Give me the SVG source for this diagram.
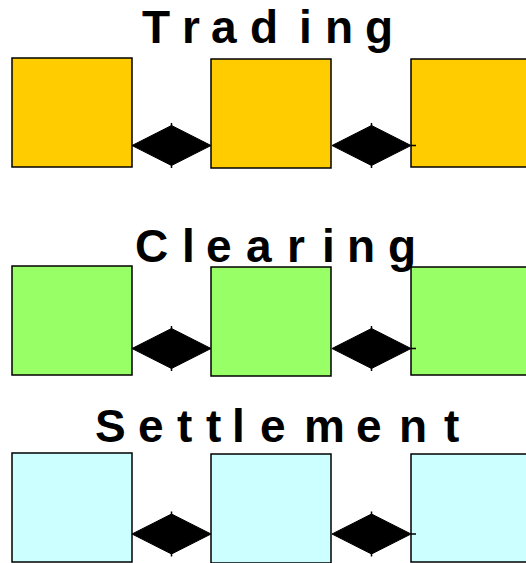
<svg xmlns="http://www.w3.org/2000/svg" width="526" height="563" viewBox="0 0 526 563">
<style>
.box{stroke:#000;stroke-width:1.5}
.trading{fill:#FFCC00}
.clearing{fill:#99FF66}
.settlement{fill:#CCFFFF}
.title{font-family:"Liberation Sans",Arial,sans-serif;font-weight:bold;font-size:46px;fill:#000}
.conn{fill:#000;stroke:#000;stroke-width:1}
.tick{stroke:#000;stroke-width:1.5}
</style>
<rect width="526" height="563" fill="#fff"/>
<g id="titles">
<text class="title" x="142 182 211 250 299 325 365" y="43">Trading</text>
<text class="title" x="135 182 206 246 287 322 347 388" y="262">Clearing</text>
<text class="title" x="95 138 177 206 232 260 304 356 399 444" y="442">Settlement</text>
</g>
<g id="trading-1"><rect class="box trading" x="12" y="58" width="120" height="109"/></g>
<g id="trading-2"><rect class="box trading" x="211" y="59" width="120" height="109"/></g>
<g id="trading-3"><rect class="box trading" x="411" y="59" width="120" height="108"/></g>
<g id="clearing-1"><rect class="box clearing" x="12" y="266" width="120" height="109"/></g>
<g id="clearing-2"><rect class="box clearing" x="211" y="267" width="120" height="109"/></g>
<g id="clearing-3"><rect class="box clearing" x="411" y="267" width="120" height="108"/></g>
<g id="settlement-1"><rect class="box settlement" x="12" y="453" width="120" height="109"/></g>
<g id="settlement-2"><rect class="box settlement" x="211" y="454" width="120" height="109"/></g>
<g id="settlement-3"><rect class="box settlement" x="411" y="454" width="120" height="108"/></g>
<g id="connectors">
<polygon class="conn" points="132,145.5 171.5,125.5 211,145.5 171.5,165.5"/>
<path class="tick" d="M171.5,123v3M171.5,165v3"/>
<polygon class="conn" points="332,145.5 371.5,125.5 411,145.5 371.5,165.5"/>
<path class="tick" d="M371.5,123v3M371.5,165v3M411,145.5h5"/>
<polygon class="conn" points="132,348.5 171.5,328.5 211,348.5 171.5,368.5"/>
<path class="tick" d="M171.5,326v3M171.5,368v3"/>
<polygon class="conn" points="332,348.5 371.5,328.5 411,348.5 371.5,368.5"/>
<path class="tick" d="M371.5,326v3M371.5,368v3M411,348.5h5"/>
<polygon class="conn" points="132,534 171.5,514 211,534 171.5,554"/>
<path class="tick" d="M171.5,511.5v3M171.5,553.5v3"/>
<polygon class="conn" points="332,534 371.5,514 411,534 371.5,554"/>
<path class="tick" d="M371.5,511.5v3M371.5,553.5v3M411,534h5"/>
</g>
</svg>
